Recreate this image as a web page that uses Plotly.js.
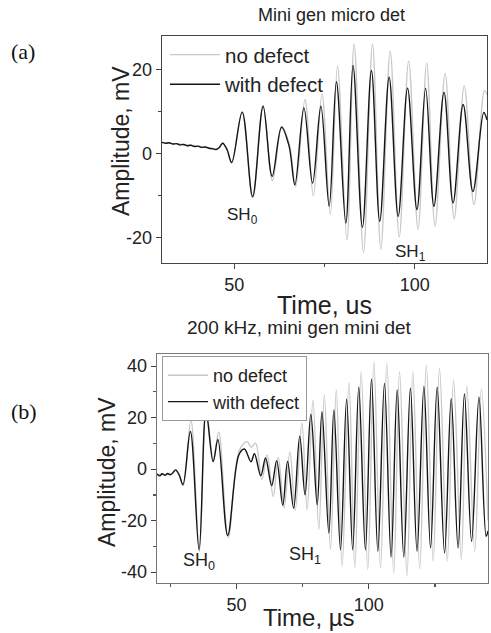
<!DOCTYPE html>
<html><head><meta charset="utf-8">
<script src="https://cdn.plot.ly/plotly-3.0.1.min.js"></script>
<style>body{margin:0;background:#fff}#chart{width:491px;height:633px}</style>
</head><body><div id="chart"></div>
<script>
// ---- Panel (a): Mini gen micro det ----
const timeA_withDefect = [30,31,32,33,34,35,36,37,38,39,40,41,42,43,44,45,45.8,46.8,48.0,49.3,52.2,55.1,58.0,60.5,63.1,65.2,66.8,69.3,71.7,74.0,76.3,78.3,80.9,82.9,85.5,88.0,90.3,92.9,95.4,98.0,100.6,103.0,105.3,108.1,110.6,113.4,116.1,119.1,120];
const ampA_withDefect = [2.7,2.5,2.6,2.3,2.4,2.1,2.2,1.9,2.0,1.7,1.8,1.5,1.6,1.3,1.2,1.0,1.4,2.5,1.0,-2.1,9.9,-10.2,11.3,-5.4,6.3,1.8,-7.4,10.9,-7.0,11.3,-12.5,17.1,-16.5,21.0,-17.5,19.8,-16.1,18.2,-14.9,15.6,-13.3,15.6,-12.5,14.6,-11.7,11.7,-9.0,9.8,8.0];
const timeA_noDefect = [30,33,36,39,42,45,45.8,46.8,48.0,49.3,52.2,55.1,58.0,60.6,63.2,65.3,67.0,69.6,71.9,74.3,76.6,78.6,81.2,83.2,85.8,88.3,90.6,93.2,95.7,98.3,100.9,103.3,105.6,108.4,110.9,113.7,116.4,119.3,120];
const ampA_noDefect = [2.6,2.4,2.2,1.9,1.6,1.0,1.4,2.5,1.0,-2.2,10.0,-10.5,11.5,-6.4,6.5,2.0,-7.8,12.9,-10.0,14.2,-14.5,20.8,-20.5,26.1,-23.5,26.1,-22.7,24.4,-19.8,22.0,-18.0,21.6,-17.2,19.1,-15.5,16.2,-12.1,15.0,14.0];

// ---- Panel (b): 200 kHz, mini gen mini det ----
const timeB_withDefect = [20,21,22,23,24,25,26,27.0,28.3,29.8,32.6,35.9,38.5,41.2,43.0,46.7,50.9,53.0,55.5,56.8,59.2,61.0,63.3,65.2,67.5,69.3,71.6,73.9,75.9,78.1,80.5,82.3,84.9,86.8,89.3,91.6,93.9,96.2,98.7,101.0,103.4,105.9,108.4,110.7,113.2,115.7,118.2,120.8,123.3,125.8,128.6,131.1,133.7,136.1,138.8,141.6,144.3,145];
const ampB_withDefect = [-1.9,-2.6,-1.8,-2.4,-1.7,-2.2,-1.4,-0.3,-2.0,-6.0,14.6,-31.3,22.5,2.9,11.5,-25.7,5.5,7.8,2.9,6.0,-2.6,4.3,-6.4,3.3,-14.0,3.0,-15.1,12.8,-10.0,21.3,-13.8,22.3,-24.8,23.0,-31.3,27.2,-31.3,31.8,-31.3,34.9,-31.9,33.3,-34.1,30.7,-34.1,31.4,-31.9,32.1,-30.6,31.8,-32.6,27.3,-30.6,29.2,-28.0,27.9,-26.1,-24.0];
const timeB_noDefect = [20,22,24,26,27.0,28.3,29.9,32.8,36.0,38.6,41.3,43.3,46.9,51.0,54.0,55.6,57.2,59.6,61.6,63.9,65.8,68.0,70.2,72.2,74.7,76.7,78.9,81.1,83.2,85.5,87.7,89.9,92.5,94.7,97.1,99.6,101.9,104.4,106.8,109.4,111.6,114.4,116.6,119.2,121.7,124.3,126.7,129.6,132.0,134.9,137.0,140.0,142.5,145];
const ampB_noDefect = [-2.0,-2.1,-1.9,-1.6,-0.5,-2.2,-6.5,19.1,-32.0,23.0,3.5,14.4,-26.5,7.0,10.7,8.5,10.1,-4.0,5.5,-10.6,4.5,-15.0,6.8,-16.0,17.8,-15.8,26.9,-23.5,28.8,-31.3,30.7,-37.7,33.6,-38.4,37.8,-39.0,41.5,-38.4,41.1,-40.3,37.8,-41.4,37.8,-38.7,40.4,-35.8,39.1,-35.8,34.6,-35.0,32.2,-31.9,31.0,-20.0];

// ---- Tick labels (hyphen-minus as in the original) ----
const yTickValsA = [-20, 0, 20];
const yTickTextA = ['-20', '0', '20'];
const yTickValsB = [-40, -20, 0, 20, 40];
const yTickTextB = ['-40', '-20', '0', '20', '40'];

const seriesNames = ['no defect', 'with defect'];
const titleA = 'Mini gen micro det';
const titleB = '200 kHz, mini gen mini det';
const yTitle = 'Amplitude, mV';
const xTitleA = 'Time, us';
const xTitleB = 'Time, µs';

const SANS = '"Liberation Sans", Arial, sans-serif';
const SERIF = '"Liberation Serif", "Times New Roman", serif';
const GRAY = '#c8c8c8', BLACK = '#151515';

function line(c){ return {color:c, width:1.4, shape:'spline', smoothing:1}; }

const traces = [
  {x:timeA_noDefect, y:ampA_noDefect, name:seriesNames[0], type:'scatter', mode:'lines', line:line(GRAY), xaxis:'x', yaxis:'y', legend:'legend'},
  {x:timeA_withDefect, y:ampA_withDefect, name:seriesNames[1], type:'scatter', mode:'lines', line:line(BLACK), xaxis:'x', yaxis:'y', legend:'legend'},
  {x:timeB_noDefect, y:ampB_noDefect, name:seriesNames[0], type:'scatter', mode:'lines', line:line(GRAY), xaxis:'x2', yaxis:'y2', legend:'legend2'},
  {x:timeB_withDefect, y:ampB_withDefect, name:seriesNames[1], type:'scatter', mode:'lines', line:line(BLACK), xaxis:'x2', yaxis:'y2', legend:'legend2'}
];

function axis(extra){
  return Object.assign({
    showgrid:false, zeroline:false, showline:true, linecolor:'#444', linewidth:1.4,
    ticks:'outside', ticklen:5, tickwidth:1.2, tickcolor:'#444',
    tickfont:{size:18, color:'#222', family:SANS}
  }, extra);
}

function px(x){ return x/491; }
function py(y){ return 1 - y/633; }

const layout = {
  width:491, height:633, margin:{l:0,r:0,t:0,b:0},
  paper_bgcolor:'#fff', plot_bgcolor:'#fff',
  font:{family:SANS, color:'#222'},
  showlegend:true,
  xaxis: axis({domain:[px(162),px(487)], anchor:'y', range:[30,120], dtick:50, tick0:0, mirror:true,
    minor:{dtick:25, tick0:0, ticks:'outside', ticklen:3, tickcolor:'#444'},
    title:{text:xTitleA, font:{size:25}, standoff:2}}),
  yaxis: axis({domain:[py(263),py(36)], anchor:'x', range:[-26,28], tickmode:'array', tickvals:yTickValsA, ticktext:yTickTextA, mirror:true,
    minor:{tickmode:'linear', dtick:10, tick0:0, ticks:'outside', ticklen:3, tickcolor:'#444'}}),
  xaxis2: axis({domain:[px(157),px(488)], anchor:'y2', range:[20,145], dtick:50, tick0:0, mirror:true, linecolor:'#777',
    minor:{dtick:25, tick0:0, ticks:'outside', ticklen:3, tickcolor:'#555'}}),
  yaxis2: axis({domain:[py(583),py(354)], anchor:'x2', range:[-44.2,44.7], tickmode:'array', tickvals:yTickValsB, ticktext:yTickTextB, mirror:true, linecolor:'#777',
    minor:{tickmode:'linear', dtick:10, tick0:0, ticks:'outside', ticklen:3, tickcolor:'#555'}}),
  xaxis3: {overlaying:'x2', anchor:'y2', side:'top', range:[20,145], dtick:50, tick0:0,
    ticks:'inside', ticklen:5, tickcolor:'#666', showticklabels:false, showline:false, showgrid:false, zeroline:false,
    minor:{dtick:25, tick0:0, ticks:'inside', ticklen:3, tickcolor:'#666'}},
  yaxis3: {overlaying:'y2', anchor:'x2', side:'right', range:[-44.2,44.7], dtick:20, tick0:0,
    ticks:'inside', ticklen:5, tickcolor:'#666', showticklabels:false, showline:false, showgrid:false, zeroline:false,
    minor:{dtick:10, tick0:0, ticks:'inside', ticklen:3, tickcolor:'#666'}},
  legend: {x:0.336, y:0.945, xanchor:'left', yanchor:'top', bgcolor:'rgba(0,0,0,0)', borderwidth:0,
    font:{size:20.5, color:'#222'}, tracegroupgap:0, itemwidth:50},
  legend2: {x:0.33, y:py(356), xanchor:'left', yanchor:'top', bgcolor:'#fff', bordercolor:'#999', borderwidth:1,
    font:{size:18, color:'#222'}, tracegroupgap:0, itemwidth:40},
  annotations: [
    {text:'(a)', xref:'paper', yref:'paper', x:0.018, y:py(51), xanchor:'left', yanchor:'middle', showarrow:false, font:{family:SERIF, size:22, color:'#111'}},
    {text:'(b)', xref:'paper', yref:'paper', x:0.018, y:py(411), xanchor:'left', yanchor:'middle', showarrow:false, font:{family:SERIF, size:22, color:'#111'}},
    {text:titleA, xref:'paper', yref:'paper', x:px(331.5), y:py(15), xanchor:'center', yanchor:'middle', showarrow:false, font:{size:18}},
    {text:titleB, xref:'paper', yref:'paper', x:px(299), y:py(327), xanchor:'center', yanchor:'middle', showarrow:false, font:{size:19}},
    {text:yTitle, xref:'paper', yref:'paper', x:px(121), y:py(141), textangle:-90, xanchor:'center', yanchor:'middle', showarrow:false, font:{size:23}},
    {text:yTitle, xref:'paper', yref:'paper', x:px(107), y:py(472), textangle:-90, xanchor:'center', yanchor:'middle', showarrow:false, font:{size:23}},
    {text:xTitleB, xref:'paper', yref:'paper', x:px(309), y:py(617), xanchor:'center', yanchor:'middle', showarrow:false, font:{size:24}},
    {text:'SH<sub>0</sub>', xref:'x', yref:'y', x:52.4, y:-14.8, showarrow:false, font:{size:17}},
    {text:'SH<sub>1</sub>', xref:'x', yref:'y', x:98.9, y:-23.6, showarrow:false, font:{size:17}},
    {text:'SH<sub>0</sub>', xref:'x2', yref:'y2', x:35.8, y:-35.9, showarrow:false, font:{size:18}},
    {text:'SH<sub>1</sub>', xref:'x2', yref:'y2', x:75.8, y:-33.6, showarrow:false, font:{size:18}}
  ]
};

Plotly.newPlot('chart', traces, layout, {displayModeBar:false, staticPlot:true});
</script>
</body></html>
